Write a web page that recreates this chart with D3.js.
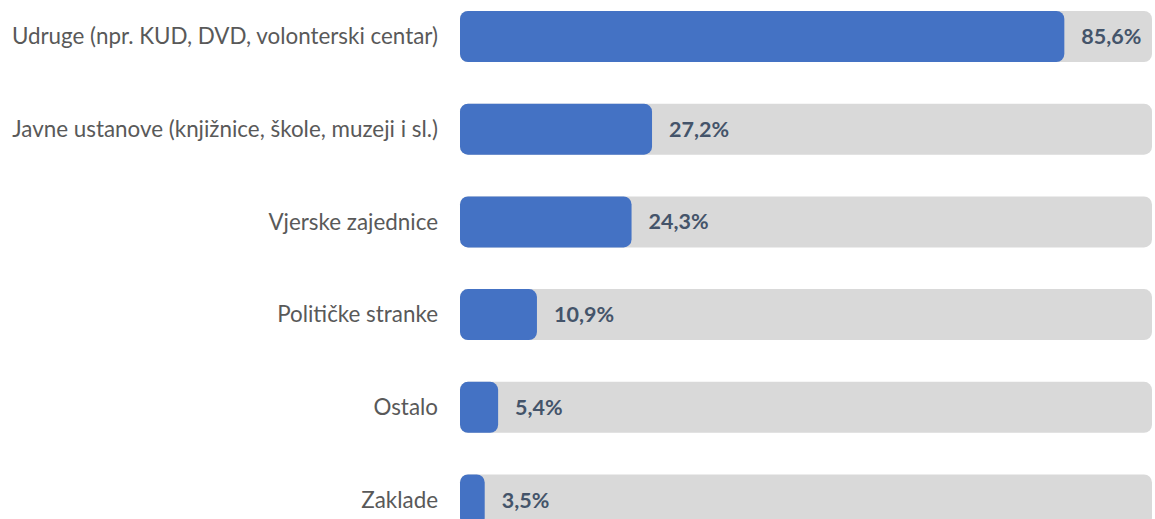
<!DOCTYPE html>
<html>
<head>
<meta charset="utf-8">
<script src="https://cdn.jsdelivr.net/npm/d3@7"></script>
<style>
  body { margin: 0; background: #fff; overflow: hidden; }
  .cat_label { font-family: Lato, "Open Sans", sans-serif; font-size: 22.4px; fill: #595959; }
  .value_label { font-family: Lato, "Open Sans", sans-serif; font-size: 21.5px; font-weight: bold; fill: #44546A; }
</style>
</head>
<body>
<div id="chart"></div>
<script>
(function () {

  // Data
  const categories = [
    "Udruge (npr. KUD, DVD, volonterski centar)",
    "Javne ustanove (knjižnice, škole, muzeji i sl.)",
    "Vjerske zajednice",
    "Političke stranke",
    "Ostalo",
    "Zaklade"
  ]
  const values = [85.6, 27.2, 24.3, 10.9, 5.4, 3.5]
  const valueLabels = ["85,6%", "27,2%", "24,3%", "10,9%", "5,4%", "3,5%"]

  const datapoints = categories.map((c, i) => ({ name: c, value: values[i], label: valueLabels[i] }))

  // Layout
  const width = 1155
  const height = 519
  const left = 460
  const trackWidth = 692

  const xPositionScale = d3.scaleLinear()
    .domain([0, 100])
    .range([0, 706])

  const yPositionScale = d3.scaleBand()
    .domain(categories)
    .range([11, 525.5])
    .paddingInner(0.45)
    .paddingOuter(0)

  const svg = d3.select("#chart").append("svg")
    .attr("width", width)
    .attr("height", height)

  const rows = svg.selectAll("g.row")
    .data(datapoints)
    .join("g")
    .attr("class", "row")
    .attr("transform", d => `translate(0, ${yPositionScale(d.name)})`)

  // Grey track
  rows.append("rect")
    .attr("x", left)
    .attr("width", trackWidth)
    .attr("height", yPositionScale.bandwidth())
    .attr("rx", 8)
    .attr("fill", "#D9D9D9")

  // Blue bar
  rows.append("rect")
    .attr("x", left)
    .attr("width", d => xPositionScale(d.value))
    .attr("height", yPositionScale.bandwidth())
    .attr("rx", 8)
    .attr("fill", "#4472C4")

  // Category labels
  rows.append("text")
    .attr("class", "cat_label")
    .attr("x", 438)
    .attr("y", yPositionScale.bandwidth() / 2)
    .attr("dy", "0.35em")
    .attr("text-anchor", "end")
    .text(d => d.name)

  // Value labels
  rows.append("text")
    .attr("class", "value_label")
    .attr("x", d => left + xPositionScale(d.value) + 17)
    .attr("y", yPositionScale.bandwidth() / 2)
    .attr("dy", "0.35em")
    .text(d => d.label)

})();
</script>
</body>
</html>
